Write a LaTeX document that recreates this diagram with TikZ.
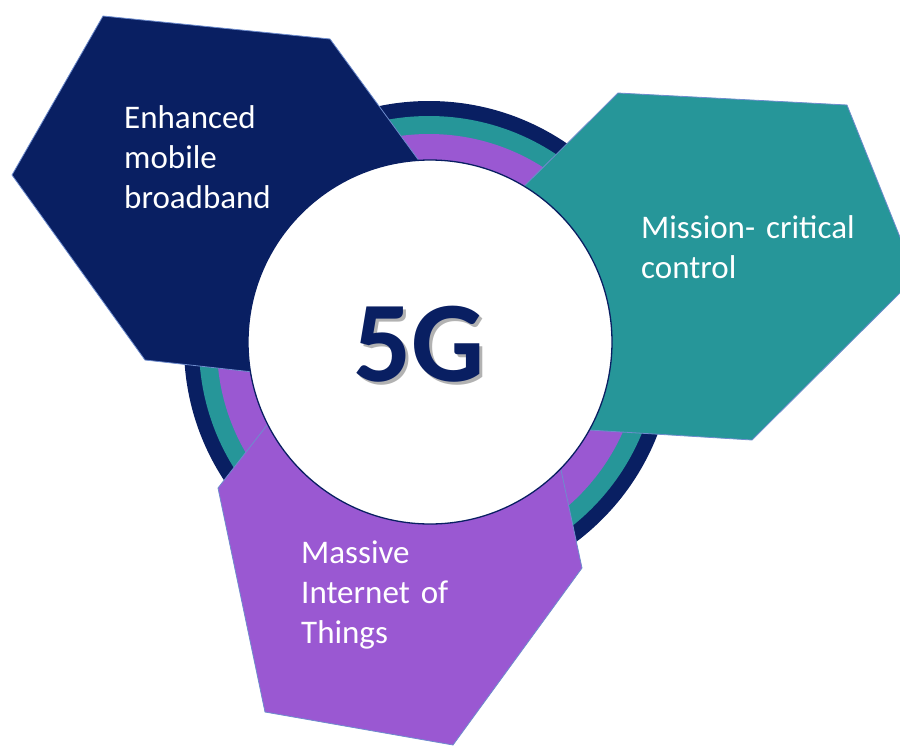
\documentclass[tikz,border=0pt]{standalone}
\usepackage{fontspec}
\setmainfont{Carlito}
\definecolor{navyfill}{RGB}{9,31,98}
\definecolor{tealfill}{RGB}{38,150,153}
\definecolor{purplefill}{RGB}{154,88,210}
\definecolor{edgeblue}{RGB}{110,140,205}
\begin{document}
\begin{tikzpicture}[x=1pt,y=-1pt,
  hexface/.style={draw=edgeblue,line width=0.8pt,line join=miter},
  pillar/.style={anchor=base west,inner sep=0pt,text width=300pt,align=left,
    text=white,font=\fontsize{33}{40}\selectfont},
  hub/.style={font=\bfseries\fontsize{115}{115}\selectfont,inner sep=0pt}]
\useasboundingbox (0,0) rectangle (900,745);
\clip (0,0) rectangle (900,745);

% concentric rings behind the three pillars
\fill[navyfill]   (429,346) circle (245);
\fill[tealfill]   (429,346) circle (230);
\fill[purplefill] (429,346) circle (212);

% the three pillars
\filldraw[hexface,fill=navyfill]
  (103,16) -- (330,39) -- (455,210) -- (370,385) -- (145,360) -- (12,175) -- cycle;
\filldraw[hexface,fill=tealfill]
  (618,93) -- (847,105) -- (916,277) -- (752,440) -- (540,427) -- (470,240) -- cycle;
\filldraw[hexface,fill=purplefill]
  (310,370) -- (545,395) -- (582,568) -- (453,745) -- (265,712) -- (218,488) -- cycle;

% central disc
\node[circle,fill=white,draw=navyfill,line width=1.3pt,minimum size=364pt,inner sep=0pt]
  (core) at (430,342) {};

% drop shadow, then the label
\node[hub,text=black,opacity=0.3] (hubshadow) at (422,347) {5G};
\node[hub,text=navyfill] (hubtext) at (419,344) {5G};

\node[pillar] (embb) at (124,128) {Enhanced\\mobile\\broadband};
\node[pillar] (mcc)  at (641,238) {Mission- critical\\control};
\node[pillar] (miot) at (301,563) {Massive\\Internet of\\Things};
\end{tikzpicture}
\end{document}
